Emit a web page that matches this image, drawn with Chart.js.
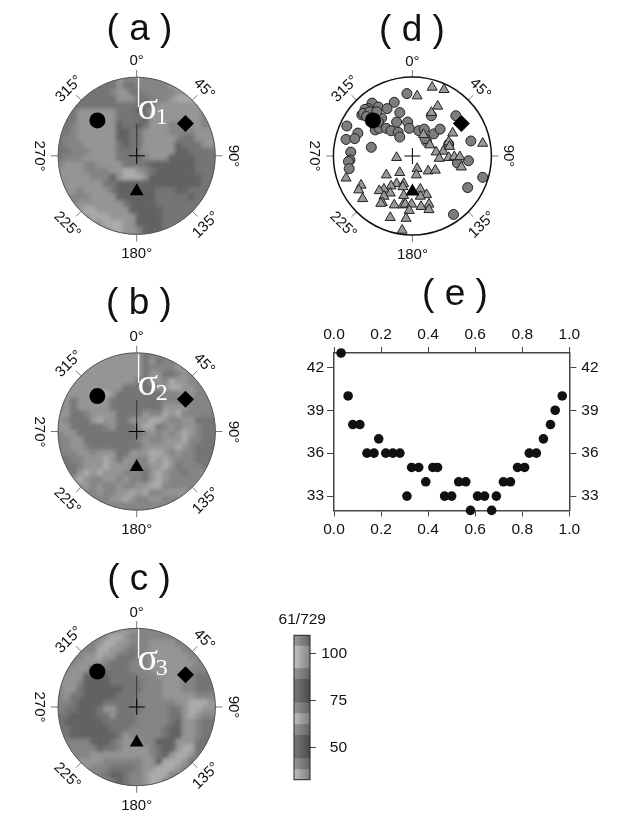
<!DOCTYPE html>
<html><head><meta charset="utf-8">
<script src="https://cdn.jsdelivr.net/npm/chart.js@4"></script>
<style>
html,body{margin:0;padding:0;background:#fff;width:626px;height:832px;overflow:hidden;font-family:"Liberation Sans",sans-serif;color:#111}
canvas{position:absolute}
.t{position:absolute;white-space:pre;line-height:1;transform:translate(-50%,-50%)}
</style></head><body>
<script>
const titleTexts = ["( a )","( b )","( c )","( d )","( e )"];
const azimuthAngles = [0,45,90,135,180,225,270,315];
const azimuthLabels = ["0°","45°","90°","135°","180°","225°","270°","315°"];
const azimuthRotation = [0,45,90,-45,0,45,90,-45];
const grayLevels = {1:"#616161",2:"#757575",3:"#868686",4:"#989898",5:"#b0b0b0"};

const fieldA = [
"222222222433333333333333",
"222222222422333334443333",
"222222223442233333444333",
"222222222444223334555433",
"222222222222222444444433",
"222444444222124444444433",
"222444444222214444444433",
"223444444122124443334433",
"223444444112244443333444",
"233444444112244444322444",
"233344444212244444122244",
"223334444222344444112222",
"233344444222234441111222",
"344433444422221111111222",
"444433334455432111111222",
"444443331455541111111122",
"344444422111111111111122",
"344344442111111222112222",
"343334444111111222221222",
"333444444421111222222222",
"334455444441111122222222",
"334445554444111122222223",
"333344455544111122223333",
"333334445544311123333333"];

const fieldB = [
"444444444444423333444444",
"444444444444424233434444",
"444444444444423333444444",
"444444444444424422343444",
"444444444444224435443344",
"444444444422222445544333",
"444445554222222233344333",
"342444442222222233333333",
"342444442222222244443333",
"442234444222243354533333",
"432224544224445543344222",
"442222234222455234344322",
"344222222222234343454322",
"334422222222343344453322",
"334432222222244444543222",
"333443444224445543433222",
"223344454244335454333222",
"222344454443334454233322",
"332454544433324543323344",
"334543344343324543333344",
"333443433433445533333344",
"444433433445453344443344",
"444423334454334433344444",
"444433333333333333344444"];

const fieldC = [
"333333333444333333333333",
"333333345543333333333333",
"333333455443334444333333",
"333333554432334444433333",
"333344544222334444443333",
"333444432223334444444333",
"334441122223334444443332",
"344411112222333444443222",
"444311112222233344433222",
"344211111122233344433222",
"342211111222333344444333",
"332111122222333333445554",
"322111244222233332245544",
"221111224222333332245433",
"211111122222333332144322",
"221111112223333321144322",
"221111111243333321144322",
"233331112344433111444222",
"233333122344443211455222",
"233334444444443214554222",
"233444433333344155542222",
"334443332222344555433333",
"333433321123345553333333",
"333333332123345533333333"];

const blackCircle = [-50,45];
const blackDiamond = [62,41];
const blackTriangle = [0,-45];
const centreCross = [0,0];

const dCircles = [[-7,79],[-23,68],[-51,67],[-56,60],[-60,59],[-64,52],[-43,62],[-32,60],[-16,55],[24,51],[55,51],[-6,43],[-20,43],[-83,38],[-69,29],[-84,21],[-73,22],[-52,11],[-78,5],[-79,-5],[-81,-7],[-80,-16],[-47,33],[-42,35],[-33,35],[-27,32],[-18,30],[-16,24],[-4,35],[8,32],[15,34],[18,18],[27,28],[35,34],[46,15],[74,19],[71,-6],[57,-9],[89,-27],[70,-40],[52,-74],[-62,54],[-39,48],[-49,52],[-54,56],[-43,43],[-58,50],[-45,56],[16,22]];
const dTriangles = [[25,87],[40,84],[6,76],[32,63],[24,55],[51,29],[89,16],[46,18],[39,6],[30,5],[47,12],[34,-3],[46,-2],[53,-1],[60,-1],[62,-14],[14,27],[22,14],[-20,-2],[6,-16],[-16,-21],[-33,-24],[5,-24],[20,-19],[29,-18],[-84,-28],[-65,-37],[-68,-43],[-63,-54],[-20,-35],[-11,-35],[-27,-38],[-36,-42],[-42,-44],[-28,-47],[-36,-51],[-38,-59],[-40,-60],[-23,-62],[-12,-62],[-9,-61],[-1,-61],[-11,-50],[-12,-39],[10,-42],[18,-49],[11,-64],[21,-61],[21,-68],[-4,-69],[-28,-78],[-8,-79],[-13,-94],[10,-51]];

const eX = [0.03,0.06,0.08,0.11,0.14,0.17,0.19,0.22,0.25,0.28,0.31,0.33,0.36,0.39,0.42,0.44,0.47,0.50,0.53,0.56,0.58,0.61,0.64,0.67,0.69,0.72,0.75,0.78,0.81,0.83,0.86,0.89,0.92,0.94,0.97];
const eY = [43,40,38,38,36,36,37,36,36,36,33,35,35,34,35,35,33,33,34,34,32,33,33,32,33,34,34,35,35,36,36,37,38,39,40];
const eXTicks = [0,0.2,0.4,0.6,0.8,1];
const eYTicks = [33,36,39,42];

const barEdges = [32.8,38.2,44,56.4,62.2,68,73.8,86.3,92,104.1,109.8];
const barGrays = [[190,125],[150,100],[120,75],[150,100],[190,125],[150,100],[120,75],[150,100],[195,130],[155,100]];
const barTicks = [50,75,100];
const barTitle = "61/729";

const FONT = '"Liberation Sans",sans-serif';
const LABEL_SIZE = 15.5;
function addText(text,x,y,size,rot,extra){
  const d=document.createElement('div');d.className='t';d.textContent=text;
  d.style.left=x+'px';d.style.top=y+'px';d.style.fontSize=size+'px';
  d.style.transform='translate(-50%,-50%) rotate('+(rot||0)+'deg)';
  if(extra)Object.assign(d.style,extra);
  document.body.appendChild(d);
}
function makeCanvas(l,t,w,h){
  const c=document.createElement('canvas');c.width=w;c.height=h;
  c.style.left=l+'px';c.style.top=t+'px';c.style.width=w+'px';c.style.height=h+'px';
  document.body.appendChild(c);return c;
}
const pts = a => a.map(p=>({x:p[0],y:p[1]}));

const stereoPlugin = {
  id:'stereo',
  beforeDatasetDraw(chart,args){
    const ds=chart.data.datasets[args.index];
    if(!ds.isField)return;
    const c=chart.ctx,a=chart.chartArea,r=(a.right-a.left)/2;
    c.save();c.beginPath();c.arc((a.left+a.right)/2,(a.top+a.bottom)/2,r,0,Math.PI*2);c.clip();
    c.fillStyle='#858585';c.fillRect(a.left,a.top,a.right-a.left,a.bottom-a.top);
    c.filter='blur(2.2px)';
  },
  afterDatasetDraw(chart,args){
    const ds=chart.data.datasets[args.index];
    if(!ds.isField)return;
    const c=chart.ctx;c.restore();
    const X=chart.scales.x,Y=chart.scales.y;
    c.save();
    c.strokeStyle='#fff';c.lineWidth=1.3;c.beginPath();c.moveTo(X.getPixelForValue(2.4),Y.getPixelForValue(99));c.lineTo(X.getPixelForValue(2.4),Y.getPixelForValue(62));c.stroke();
    c.strokeStyle='#333';c.lineWidth=1;c.beginPath();c.moveTo(X.getPixelForValue(0),Y.getPixelForValue(40));c.lineTo(X.getPixelForValue(0),Y.getPixelForValue(0));c.stroke();
    c.restore();
  },
  beforeDatasetsDraw(chart){
    const c=chart.ctx,X=chart.scales.x,Y=chart.scales.y;
    c.save();c.strokeStyle='#777';c.lineWidth=1;
    azimuthAngles.forEach(az=>{
      const s=Math.sin(az*Math.PI/180),k=Math.cos(az*Math.PI/180);
      c.beginPath();c.moveTo(X.getPixelForValue(100*s),Y.getPixelForValue(100*k));
      c.lineTo(X.getPixelForValue(109*s),Y.getPixelForValue(109*k));c.stroke();
    });
    c.restore();
  },
  afterDatasetsDraw(chart){
    const o=chart.options.plugins.stereo,c=chart.ctx,a=chart.chartArea;
    c.save();c.strokeStyle=o.ring;c.lineWidth=o.ringWidth;c.beginPath();
    c.arc((a.left+a.right)/2,(a.top+a.bottom)/2,(a.right-a.left)/2,0,Math.PI*2);c.stroke();c.restore();
  }
};

function stereo(cx,cy,r,datasets,ring,ringWidth){
  const L=Math.floor(cx-100),T=Math.floor(cy-100),S=200;
  new Chart(makeCanvas(L,T,S,S),{
    type:'scatter',
    data:{datasets},
    plugins:[stereoPlugin],
    options:{responsive:false,animation:false,events:[],
      layout:{padding:{left:cx-r-L,right:S-(cx+r-L),top:cy-r-T,bottom:S-(cy+r-T)}},
      scales:{x:{type:'linear',min:-100,max:100,display:false},y:{type:'linear',min:-100,max:100,display:false}},
      plugins:{legend:{display:false},tooltip:{enabled:false},stereo:{ring,ringWidth}}
    }});
  azimuthAngles.forEach((az,i)=>{
    const s=Math.sin(az*Math.PI/180),k=Math.cos(az*Math.PI/180);
    addText(azimuthLabels[i],cx+97*s,cy-96.5*k,15,azimuthRotation[i]);
  });
}
function fieldDataset(rows){
  const data=[],colors=[],n=rows.length,step=200/n;
  rows.forEach((row,j)=>{for(let i=0;i<row.length;i++){
    data.push({x:-100+(i+.5)*step,y:100-(j+.5)*step});colors.push(grayLevels[row[i]]);
  }});
  return {isField:true,data,order:10,pointStyle:'rect',pointRadius:6,pointBorderWidth:0,pointBackgroundColor:colors,clip:false};
}
function blackMarks(){
  const m=(p,style,rad)=>({data:pts([p]),order:1,pointStyle:style,pointRadius:rad,pointBackgroundColor:'#000',pointBorderColor:'#000',pointBorderWidth:style==='cross'?1:0,clip:false});
  return [m(blackCircle,'circle',8),m(blackDiamond,'rectRot',8.5),m(blackTriangle,'triangle',8),m(centreCross,'cross',8)];
}
const sigmaExtra={fontFamily:'"Liberation Serif",serif',color:'#fff'};
function sigma(cx,cy,digit){
  addText('σ',cx+11,cy-50,38,0,sigmaExtra);
  addText(digit,cx+25,cy-40,24,0,sigmaExtra);
}

stereo(136.7,155.8,78.6,[fieldDataset(fieldA),...blackMarks()],'#555',1);
stereo(136.7,431.5,78.7,[fieldDataset(fieldB),...blackMarks()],'#555',1);
stereo(136.7,707,78.7,[fieldDataset(fieldC),...blackMarks()],'#555',1);
sigma(136.7,155.8,'1');sigma(136.7,431.5,'2');sigma(136.7,707,'3');

const gm=(a,style,rad,fill)=>({data:pts(a),pointStyle:style,pointRadius:rad,pointBackgroundColor:fill,pointBorderColor:'#222',pointBorderWidth:1,clip:false});
const dsTri=gm(dTriangles,'triangle',5.8,'#999999');dsTri.order=3;
const dsCir=gm(dCircles,'circle',5,'#7d7d7d');dsCir.order=4;
stereo(412.4,156,79,[dsCir,dsTri,...blackMarks()],'#111',1.5);

// panel e
new Chart(makeCanvas(290,320,320,220),{
  type:'scatter',
  data:{datasets:[{data:eX.map((x,i)=>({x,y:eY[i]})),pointRadius:4.8,pointBackgroundColor:'#111',pointBorderWidth:0,clip:false,xAxisID:'x',yAxisID:'y'}]},
  options:{responsive:false,animation:false,events:[],layout:{padding:0},
    plugins:{legend:{display:false},tooltip:{enabled:false}},
    scales:(()=>{
      const font={family:FONT,size:LABEL_SIZE};
      const grid={drawOnChartArea:false,drawTicks:true,tickLength:6,color:'#444',tickWidth:1};
      const border={display:true,color:'#444',width:1.5};
      const xc=(pos,h)=>({type:'linear',position:pos,min:0,max:1,
        afterBuildTicks:s=>{s.ticks=eXTicks.map(v=>({value:v}));},
        afterFit:s=>{s.height=h;},
        grid,border,ticks:{font,color:'#111',padding:pos==='top'?3:4,maxRotation:0,callback:v=>v.toFixed(1)}});
      const yc=(pos,w)=>({type:'linear',position:pos,min:32,max:43,
        afterBuildTicks:s=>{s.ticks=eYTicks.map(v=>({value:v}));},
        afterFit:s=>{s.width=w;},
        grid:{...grid,tickLength:7},border,ticks:{font,color:'#111',padding:pos==='left'?3:5,callback:v=>String(v)}});
      return {x:xc('bottom',29.6),x2:xc('top',33),y:yc('left',44),y2:yc('right',40.7)};
    })()
  }
});

// colour bar
const barDatasets=barGrays.map((g,i)=>({
  data:[[barEdges[i],barEdges[i+1]]],grouped:false,barPercentage:1,categoryPercentage:1,borderWidth:0,
  backgroundColor:ctx=>{
    const a=ctx.chart.chartArea;if(!a)return '#888';
    const gr=ctx.chart.ctx.createLinearGradient(a.left,0,a.right,0);
    gr.addColorStop(0,`rgb(${g[0]},${g[0]},${g[0]})`);gr.addColorStop(1,`rgb(${g[1]},${g[1]},${g[1]})`);
    return gr;
  }}));
new Chart(makeCanvas(290,620,70,175),{
  type:'bar',
  data:{labels:[barTitle],datasets:barDatasets},
  plugins:[{id:'frame',afterDraw(chart){const c=chart.ctx,a=chart.chartArea;c.save();c.strokeStyle='#222';c.lineWidth=1;c.strokeRect(a.left,a.top,a.right-a.left,a.bottom-a.top);c.restore();}}],
  options:{responsive:false,animation:false,events:[],
    layout:{padding:{left:4,top:9.3,bottom:10.7,right:13}},
    plugins:{legend:{display:false},tooltip:{enabled:false}},
    scales:{
      x:{display:false},
      y:{type:'linear',position:'right',min:32.8,max:109.8,
        afterBuildTicks:s=>{s.ticks=barTicks.map(v=>({value:v}));},
        afterFit:s=>{s.width=37;},
        border:{display:false},
        grid:{drawOnChartArea:false,drawTicks:true,tickLength:6,color:'#444'},
        ticks:{font:{family:FONT,size:LABEL_SIZE},color:'#111',crossAlign:'far',padding:6,callback:v=>String(v)}}
    }}
});
addText(barTitle,302.3,619,LABEL_SIZE,0);

addText(titleTexts[0],139.5,27,37,0);
addText(titleTexts[1],139,301,37,0);
addText(titleTexts[2],139,577,37,0);
addText(titleTexts[3],412,28,37,0);
addText(titleTexts[4],455,292,37,0);
</script>
</body></html>
